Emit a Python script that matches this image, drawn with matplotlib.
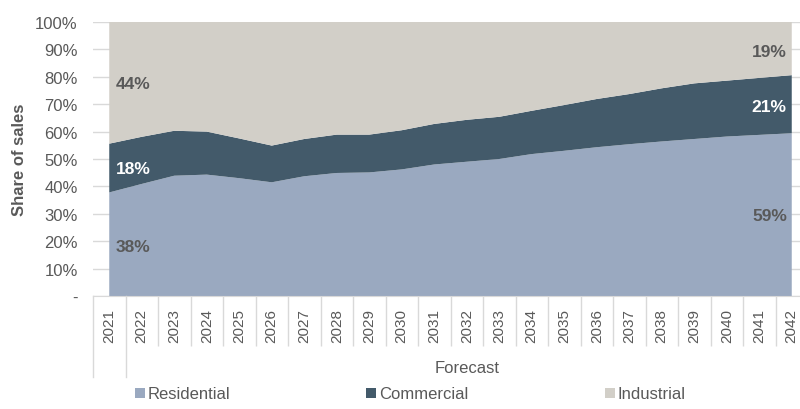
import numpy as np
import matplotlib
matplotlib.use("Agg")
import matplotlib.pyplot as plt
from matplotlib.lines import Line2D

plt.rcParams['font.family'] = ['Liberation Sans', 'DejaVu Sans']

years = [str(y) for y in range(2021, 2043)]
residential = [37.8, 40.9, 43.9, 44.3, 43.0, 41.5, 43.7, 44.9, 45.1, 46.2, 48.0,
               49.0, 50.0, 51.8, 53.0, 54.3, 55.4, 56.4, 57.3, 58.2, 58.8, 59.4]
commercial = [17.8, 17.2, 16.4, 15.7, 14.5, 13.4, 13.6, 14.0, 13.8, 14.3, 14.8,
              15.3, 15.4, 15.8, 16.7, 17.6, 18.3, 19.4, 20.3, 20.4, 20.8, 21.2]
industrial = [44.4, 41.9, 39.7, 40.0, 42.5, 45.1, 42.7, 41.1, 41.1, 39.5, 37.2,
              35.7, 34.6, 32.4, 30.3, 28.1, 26.3, 24.2, 22.4, 21.4, 20.4, 19.4]
series_names = ["Residential", "Commercial", "Industrial"]
colors = ["#9AA9C0", "#435A6A", "#D2CFC8"]
grey = "#595959"

fig = plt.figure(figsize=(8, 4.1), dpi=100)
ax = fig.add_axes([93 / 800, 113 / 410, 715 / 800, 274 / 410])

x = np.arange(len(years))
ax.stackplot(x, residential, commercial, industrial, colors=colors, lw=0)

ax.set_xlim(-0.5, len(years) - 0.5)
ax.set_ylim(0, 100)
ax.set_axisbelow(True)
ax.yaxis.grid(True, color="#D9D9D9", lw=1)
for s in ["top", "right", "left"]:
    ax.spines[s].set_visible(False)
ax.spines["bottom"].set_color("#D9D9D9")

yt = np.arange(0, 101, 10)
ax.set_yticks(yt)
ax.set_yticklabels(["-"] + [f"{v}%" for v in yt[1:]])
ax.tick_params(axis="y", length=0, pad=11, labelsize=12, labelcolor=grey)
ax.set_ylabel("Share of sales", fontsize=12, fontweight="bold", color=grey, labelpad=6)

# year labels in the middle of each category, separators at the boundaries
ax.set_xticks(x)
ax.set_xticklabels(years, rotation=90)
ax.tick_params(axis="x", which="major", length=0, pad=9, labelsize=11, labelcolor=grey)
ax.set_xticks(np.arange(1.5, len(years) - 0.5, 1), minor=True)
ax.tick_params(axis="x", which="minor", length=36, width=1, color="#D9D9D9")

# group separators: actual year vs forecast years
trans = ax.get_xaxis_transform()
for bx in [-0.5, 0.5]:
    ax.add_line(Line2D([bx, bx], [0, -81 / 274], transform=trans, color="#D9D9D9",
                       lw=1, clip_on=False))
ax.text((0.5 + len(years) - 0.5) / 2, -72 / 274, "Forecast", transform=trans,
        ha="center", va="center", fontsize=12, color=grey)

# share labels at the start and end of the series
first_l = [(residential[0], 18.2, grey), (commercial[0], 46.4, "white"),
           (industrial[0], 77.4, grey)]
for val, ypos, c in first_l:
    ax.text(0.2, ypos, f"{round(val)}%", ha="left", va="center", fontsize=12.5,
            fontweight="bold", color=c)
last_l = [(residential[-1], 29.2, grey), (commercial[-1], 69.3, "white"),
          (industrial[-1], 89.4, grey)]
for val, ypos, c in last_l:
    ax.text(20.85, ypos, f"{round(val)}%", ha="right", va="center", fontsize=12.5,
            fontweight="bold", color=c)

handles = [Line2D([], [], marker="s", ls="none", markersize=7.5, color=c,
                  markeredgewidth=0) for c in colors]
fig.legend(handles, series_names, loc="center", bbox_to_anchor=(410 / 800, 1 - 395 / 410),
           ncol=3, frameon=False, fontsize=12, labelcolor=grey, handlelength=0.6,
           handletextpad=0.15, columnspacing=8.2, borderpad=0)

fig.savefig("out.png", dpi=100)
